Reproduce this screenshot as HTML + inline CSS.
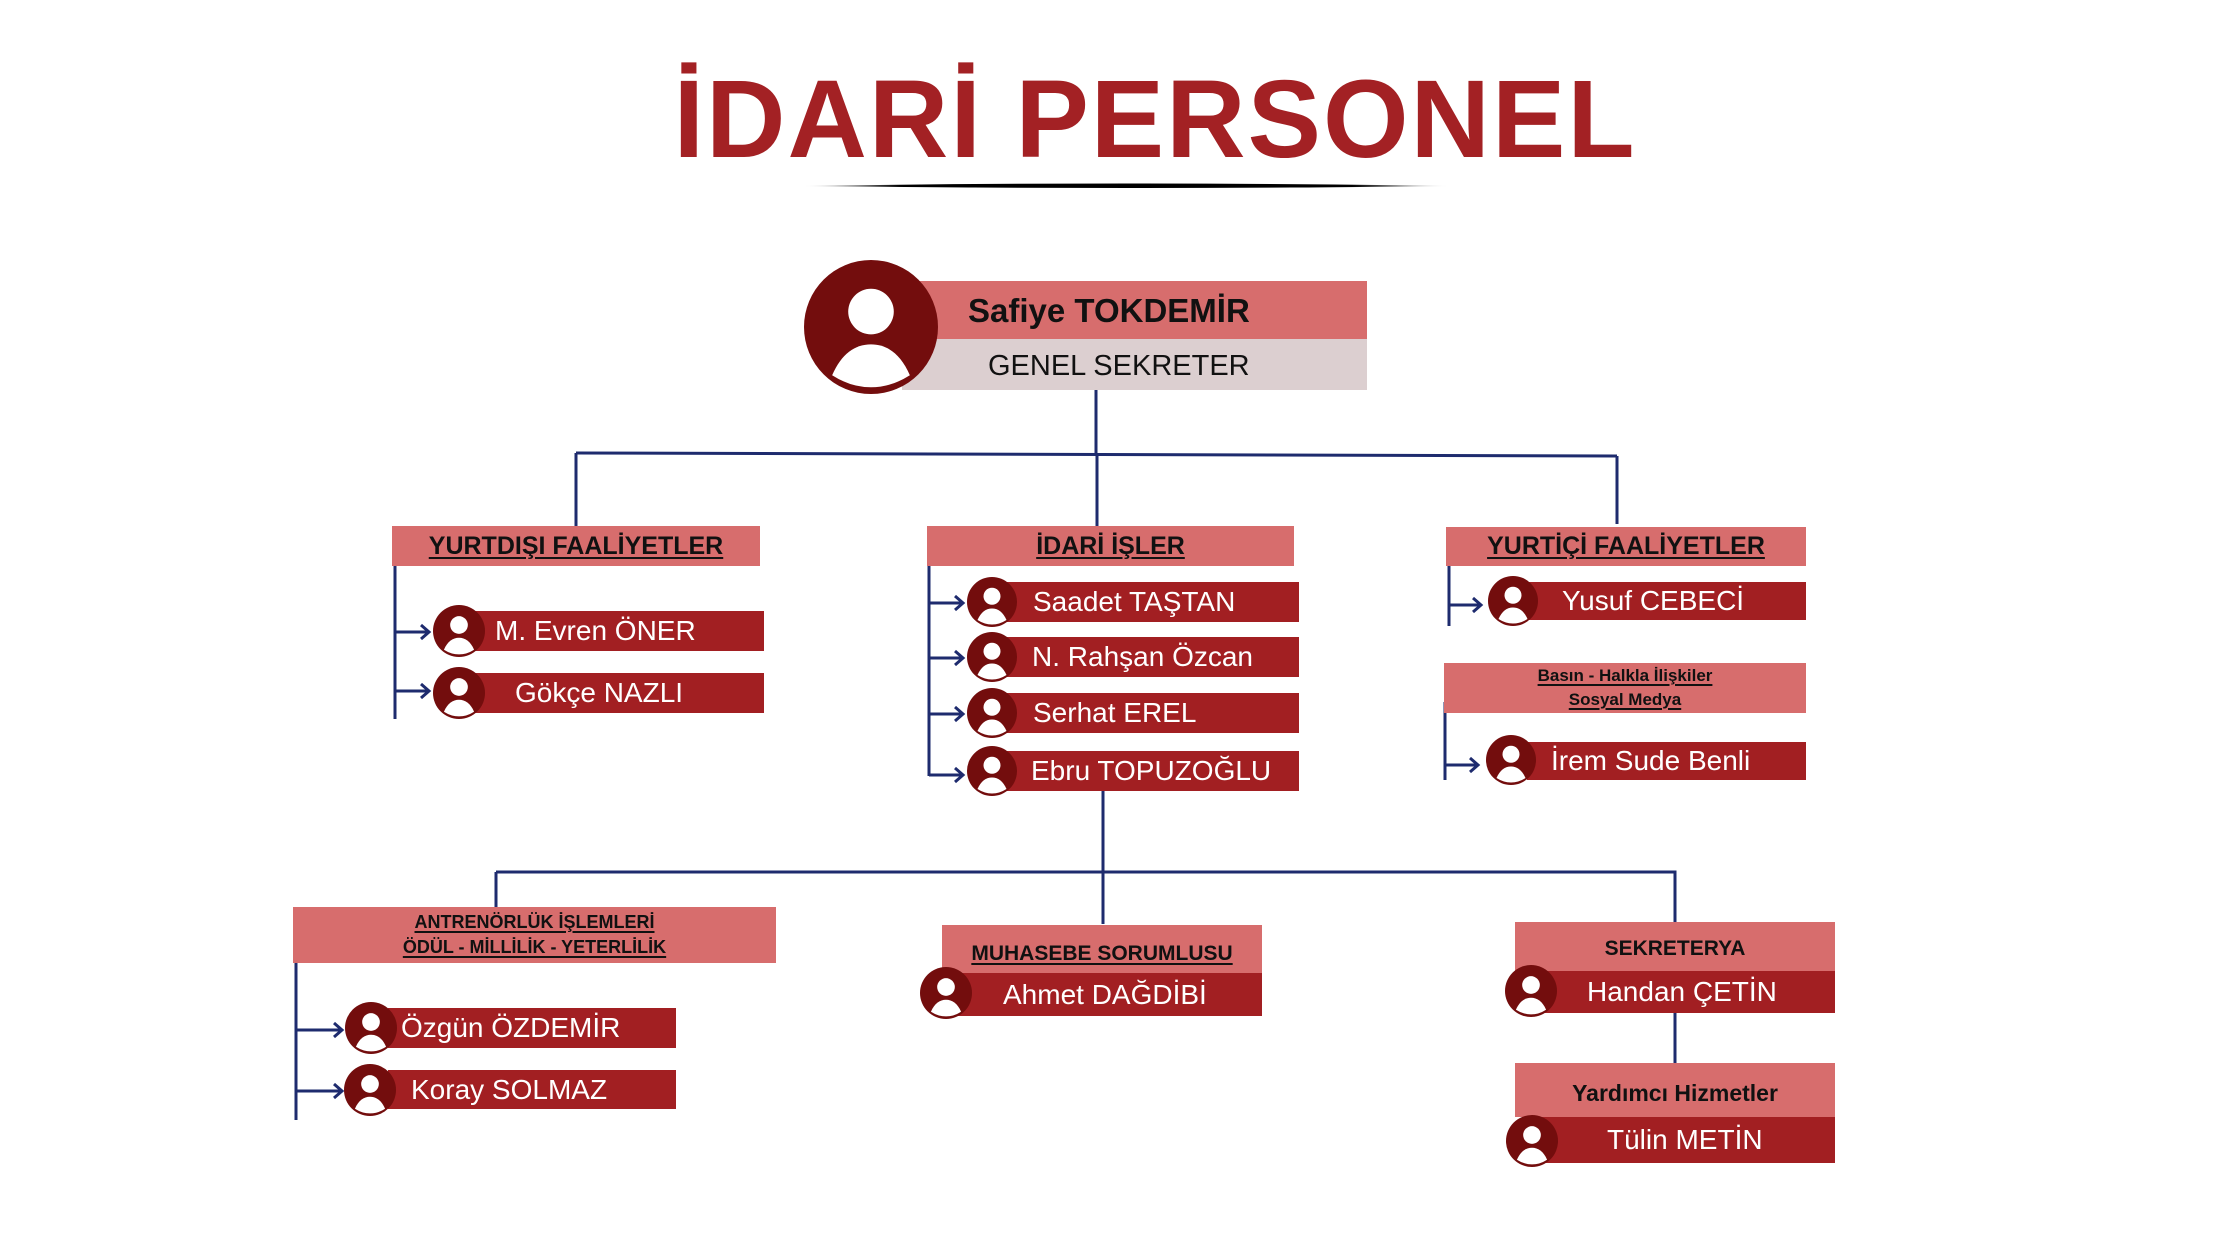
<!DOCTYPE html>
<html><head><meta charset="utf-8">
<style>
*{margin:0;padding:0;box-sizing:border-box}
body{width:2240px;height:1260px;background:#fff;position:relative;overflow:hidden;font-family:"Liberation Sans","DejaVu Sans",sans-serif}
.a{position:absolute}
.pk{position:absolute;background:#d76d6d;color:#111;font-weight:bold;text-align:center;display:flex;flex-direction:column;align-items:center;justify-content:center}
.pk span{text-decoration:underline;text-decoration-thickness:2px;text-underline-offset:3px}
.bar{position:absolute;background:#a21f22;color:#fff;font-size:28px;line-height:1;display:flex;align-items:center;white-space:nowrap}
svg.av{position:absolute}
</style></head><body>
<svg width="0" height="0" style="position:absolute"><defs>
<symbol id="av" viewBox="0 0 100 100"><circle cx="50" cy="50" r="50" fill="#730d0d"/><circle cx="50" cy="38.5" r="17" fill="#fff"/><path d="M21 86 C28 70 38 63 50 63 C62 63 72 70 79 86 Q65 95 50 95 Q35 95 21 86Z" fill="#fff"/></symbol>
</defs></svg>

<!-- title -->
<div class="a" style="left:660px;top:50px;width:990px;text-align:center;color:#a32124;font-weight:bold;font-size:110px;line-height:140px;letter-spacing:2px">İDARİ PERSONEL</div>
<svg class="a" style="left:0;top:0" width="2240" height="1260">
<defs><linearGradient id="ul" x1="0" x2="1"><stop offset="0" stop-color="#000" stop-opacity="0"/><stop offset="0.15" stop-color="#000"/><stop offset="0.85" stop-color="#000"/><stop offset="1" stop-color="#000" stop-opacity="0"/></linearGradient></defs>
<path d="M803 186 Q1126 181 1449 186 Q1126 190 803 186Z" fill="url(#ul)"/>
<g stroke="#1e2b6e" stroke-width="3" fill="none">
<path d="M1096 390 V454"/>
<path d="M576 453 L1617 456"/>
<path d="M576 453 V526"/><path d="M1097 454 V526"/><path d="M1617 456 V524"/>
<path d="M395 566 V719"/><path d="M395 632 H428"/><path d="M395 691 H428"/>
<path d="M929 566 V776"/><path d="M929 603 H962"/><path d="M929 658 H962"/><path d="M929 714 H962"/><path d="M929 775 H962"/>
<path d="M1449 566 V626"/><path d="M1449 605 H1480"/>
<path d="M1445 702 V780"/><path d="M1445 765 H1477"/>
<path d="M1103 786 V924"/>
<path d="M496 872 H1675 V922"/><path d="M496 872 V907"/>
<path d="M296 963 V1120"/><path d="M296 1030 H341"/><path d="M296 1091 H341"/>
<path d="M1675 1013 V1063"/>
</g>
<g stroke="#1e2b6e" stroke-width="3" fill="none" stroke-linejoin="miter">
<path d="M421 625 L429 632 L421 639"/><path d="M421 684 L429 691 L421 698"/>
<path d="M955 596 L963 603 L955 610"/><path d="M955 651 L963 658 L955 665"/><path d="M955 707 L963 714 L955 721"/><path d="M955 768 L963 775 L955 782"/>
<path d="M1473 598 L1481 605 L1473 612"/><path d="M1470 758 L1478 765 L1470 772"/>
<path d="M334 1023 L342 1030 L334 1037"/><path d="M334 1084 L342 1091 L334 1098"/>
</g>
</svg>

<!-- head -->
<div class="a" style="left:902px;top:281px;width:465px;height:58px;background:#d76d6d"></div>
<div class="a" style="left:902px;top:339px;width:465px;height:51px;background:#dccfd0"></div>
<div class="a" style="left:968px;top:292px;font-size:33px;font-weight:bold;color:#111;white-space:nowrap">Safiye TOKDEMİR</div>
<div class="a" style="left:988px;top:350px;font-size:29px;color:#111;white-space:nowrap">GENEL SEKRETER</div>
<svg class="av" style="left:804px;top:260px" width="134" height="134"><use href="#av"/></svg>

<!-- section headers -->
<div class="pk" style="left:392px;top:526px;width:368px;height:40px;font-size:25px"><span>YURTDIŞI FAALİYETLER</span></div>
<div class="pk" style="left:927px;top:526px;width:367px;height:40px;font-size:25px"><span>İDARİ İŞLER</span></div>
<div class="pk" style="left:1446px;top:527px;width:360px;height:39px;font-size:25px"><span>YURTİÇİ FAALİYETLER</span></div>
<div class="pk" style="left:1444px;top:663px;width:362px;height:50px;font-size:17px;line-height:24px"><span>Basın - Halkla İlişkiler </span><span>Sosyal Medya</span></div>
<div class="pk" style="left:293px;top:907px;width:483px;height:56px;font-size:18px;line-height:25px"><span>ANTRENÖRLÜK İŞLEMLERİ</span><span>ÖDÜL - MİLLİLİK - YETERLİLİK</span></div>
<div class="pk" style="left:942px;top:925px;width:320px;height:48px;font-size:21px;padding-top:10px"><span>MUHASEBE SORUMLUSU</span></div>
<div class="pk" style="left:1515px;top:922px;width:320px;height:49px;font-size:21px;padding-top:4px"><span style="text-decoration:none">SEKRETERYA</span></div>
<div class="pk" style="left:1515px;top:1063px;width:320px;height:54px;font-size:23px;padding-top:6px"><span style="text-decoration:none">Yardımcı Hizmetler</span></div>

<!-- bars -->
<div class="bar" style="left:469px;top:611px;width:295px;height:40px;padding-left:26px">M. Evren ÖNER</div>
<div class="bar" style="left:469px;top:673px;width:295px;height:40px;padding-left:46px">Gökçe NAZLI</div>
<div class="bar" style="left:1000px;top:582px;width:299px;height:40px;padding-left:33px">Saadet TAŞTAN</div>
<div class="bar" style="left:1000px;top:637px;width:299px;height:40px;padding-left:32px">N. Rahşan Özcan</div>
<div class="bar" style="left:1000px;top:693px;width:299px;height:40px;padding-left:33px">Serhat EREL</div>
<div class="bar" style="left:1000px;top:751px;width:299px;height:40px;padding-left:31px">Ebru TOPUZOĞLU</div>
<div class="bar" style="left:1527px;top:582px;width:279px;height:38px;padding-left:35px">Yusuf CEBECİ</div>
<div class="bar" style="left:1527px;top:742px;width:279px;height:38px;padding-left:24px">İrem Sude Benli</div>
<div class="bar" style="left:388px;top:1008px;width:288px;height:40px;padding-left:13px">Özgün ÖZDEMİR</div>
<div class="bar" style="left:388px;top:1070px;width:288px;height:39px;padding-left:23px">Koray SOLMAZ</div>
<div class="bar" style="left:956px;top:973px;width:306px;height:43px;padding-left:47px">Ahmet DAĞDİBİ</div>
<div class="bar" style="left:1530px;top:971px;width:305px;height:42px;padding-left:57px">Handan ÇETİN</div>
<div class="bar" style="left:1530px;top:1117px;width:305px;height:46px;padding-left:77px">Tülin METİN</div>

<!-- avatars -->
<svg class="av" style="left:433px;top:605px" width="52" height="52"><use href="#av"/></svg>
<svg class="av" style="left:433px;top:667px" width="52" height="52"><use href="#av"/></svg>
<svg class="av" style="left:967px;top:577px" width="50" height="50"><use href="#av"/></svg>
<svg class="av" style="left:967px;top:632px" width="50" height="50"><use href="#av"/></svg>
<svg class="av" style="left:967px;top:688px" width="50" height="50"><use href="#av"/></svg>
<svg class="av" style="left:967px;top:746px" width="50" height="50"><use href="#av"/></svg>
<svg class="av" style="left:1488px;top:576px" width="50" height="50"><use href="#av"/></svg>
<svg class="av" style="left:1486px;top:735px" width="50" height="50"><use href="#av"/></svg>
<svg class="av" style="left:345px;top:1002px" width="52" height="52"><use href="#av"/></svg>
<svg class="av" style="left:344px;top:1064px" width="52" height="52"><use href="#av"/></svg>
<svg class="av" style="left:920px;top:967px" width="52" height="52"><use href="#av"/></svg>
<svg class="av" style="left:1505px;top:965px" width="52" height="52"><use href="#av"/></svg>
<svg class="av" style="left:1506px;top:1115px" width="52" height="52"><use href="#av"/></svg>
</body></html>
